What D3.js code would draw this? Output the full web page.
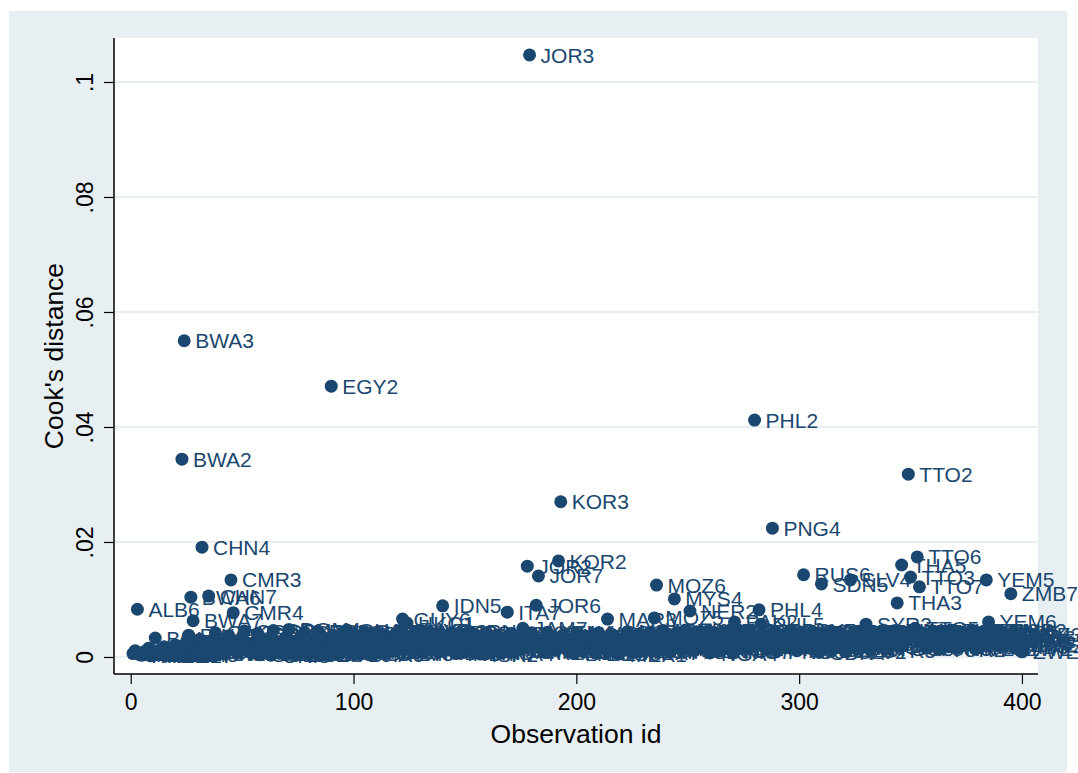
<!DOCTYPE html>
<html>
<head>
<meta charset="utf-8">
<script src="https://cdn.jsdelivr.net/npm/d3@7"></script>
<style>
  body { margin: 0; background: #fff; }
  text { font-family: "Liberation Sans", Arial, sans-serif; }
</style>
</head>
<body>
<div id="chart"></div>
<script>
// countries in the panel, with first and last period observed
const countryCodes = ["ALB","ARG","BOL","BRA","BWA","CHN","CIV","CMR","COG","COL","CRI","DOM","DZA","ECU","EGY",
  "GHA","GMB","GTM","GUY","HKG","HND","IDN","IND","IRN","ISR","ITA","JAM","JOR","KEN","KOR","LKA","LSO","MAR",
  "MEX","MLI","MOZ","MWI","MYS","NAM","NER","NGA","NIC","PAK","PER","PHL","PNG","PRY","RUS","RWA","SDN","SEN",
  "SLV","SWE","SYR","TGO","THA","TTO","TUN","TUR","URY","VEN","YEM","ZAF","ZMB","ZWE"];
const firstPeriod = [4,2,1,4,1,1,1,1,4,1,1,1,1,1,1, 1,1,1,1,1,3,1,1,1,2,1,1,1,1,1,1,1,1,
  1,3,1,5,1,6,1,1,1,2,6,1,1,3,1,6,1,1, 1,7,1,1,1,1,1,1,1,4,1,6,1,3];
const lastPeriod = [7,7,7,7,7,7,7,7,7,7,7,7,7,7,7, 7,7,7,7,7,7,7,7,7,7,7,7,7,7,7,7,7,7,
  7,7,7,7,7,7,7,7,7,7,7,6,7,7,7,7,7,7, 7,7,7,7,6,7,7,7,7,7,7,7,7,7];

// Cook's distance, one line per country (in observation order)
const cooksD = [
  .0006,.0011,.0083,.0004,
  .0003,.0009,.0005,.0015,.0002,.0007,
  .0033,.0006,.0012,.0004,.0018,.0008,.0003,
  .0010,.0005,.0021,.0009,
  .0014,.0344,.0550,.0026,.0038,.0104,.0063,
  .0019,.0007,.0031,.0191,.0024,.0013,.0106,
  .0010,.0028,.0042,.0017,.0006,.0023,.0012,
  .0016,.0037,.0134,.0077,.0021,.0008,.0027,
  .0033,.0045,.0018,.0010,
  .0007,.0013,.0025,.0041,.0004,.0010,.0017,
  .0029,.0011,.0003,.0046,.0019,.0008,.0014,
  .0022,.0006,.0036,.0048,.0010,.0027,.0004,
  .0015,.0024,.0009,.0043,.0020,.0006,.0031,
  .0012,.0026,.0045,.0009,.0035,.0005,.0018,
  .0023,.0471,.0038,.0015,.0030,.0008,.0042,
  .0017,.0047,.0011,.0028,.0040,.0005,.0021,
  .0034,.0009,.0044,.0016,.0026,.0041,.0007,
  .0013,.0032,.0019,.0039,.0006,.0024,.0010,
  .0027,.0015,.0041,.0022,.0046,.0066,.0031,
  .0059,.0018,.0037,.0011,.0030,.0045,.0023,
  .0008,.0036,.0020,.0043,.0014,
  .0025,.0033,.0009,.0040,.0089,.0017,.0028,
  .0012,.0042,.0023,.0006,.0035,.0019,.0010,
  .0031,.0016,.0044,.0024,.0008,.0038,.0021,
  .0005,.0027,.0014,.0041,.0018,.0033,
  .0011,.0022,.0036,.0007,.0029,.0015,.0078,
  .0020,.0039,.0009,.0032,.0025,.0013,.0050,
  .0034,.0158,.1047,.0042,.0023,.0090,.0141,
  .0016,.0030,.0008,.0043,.0021,.0035,.0012,
  .0026,.0167,.0270,.0038,.0018,.0031,.0009,
  .0023,.0006,.0041,.0015,.0028,.0011,.0034,
  .0019,.0036,.0013,.0024,.0007,.0042,.0017,
  .0030,.0014,.0066,.0022,.0039,.0010,.0027,
  .0005,.0021,.0033,.0012,.0044,.0018,.0008,
  .0031,.0016,.0040,.0024,.0011,
  .0035,.0019,.0043,.0027,.0068,.0125,.0038,
  .0013,.0046,.0023,
  .0032,.0009,.0026,.0101,.0017,.0041,.0014,
  .0028,.0047,
  .0020,.0080,.0034,.0011,.0044,.0024,.0037,
  .0016,.0030,.0045,.0007,.0025,.0040,.0021,
  .0033,.0012,.0042,.0019,.0028,.0046,.0009,
  .0061,.0024,.0036,.0015,.0031,.0043,
  .0018,.0045,
  .0026,.0412,.0033,.0082,.0057,.0021,
  .0037,.0014,.0028,.0224,.0043,.0010,.0035,
  .0023,.0039,.0016,.0031,.0046,
  .0019,.0034,.0011,.0041,.0027,.0143,.0022,
  .0036,.0015,
  .0044,.0025,.0032,.0008,.0127,.0039,.0020,
  .0029,.0045,.0013,.0035,.0022,.0042,.0017,
  .0032,.0009,.0037,.0134,.0024,.0044,.0016,
  .0028,
  .0041,.0021,.0057,.0033,.0012,.0039,.0025,
  .0036,.0018,.0045,.0030,.0014,.0043,.0023,
  .0034,.0046,.0094,.0020,.0160,.0038,
  .0031,.0318,.0139,.0044,.0050,.0174,.0122,
  .0026,.0041,.0015,.0035,.0022,.0045,.0029,
  .0037,.0013,.0043,.0024,.0033,.0018,.0047,
  .0030,.0040,.0016,.0044,.0025,.0035,.0021,
  .0042,.0028,.0046,.0014,
  .0033,.0022,.0040,.0045,.0134,.0061,.0036,
  .0026,.0043,
  .0030,.0046,.0018,.0037,.0023,.0034,.0110,
  .0039,.0015,.0028,.0022,.0009
];

const xTicks = [0, 100, 200, 300, 400];
const yTicks = [0, .02, .04, .06, .08, .1];
const yTickLabels = ["0", ".02", ".04", ".06", ".08", ".1"];
const xTitle = "Observation id";
const yTitle = "Cook's distance";

// build observations: id runs 1..n, label is country code + period
const obs = [];
countryCodes.forEach((c, i) => {
  for (let p = firstPeriod[i]; p <= lastPeriod[i]; p++) {
    obs.push({ id: obs.length + 1, label: c + p, d: cooksD[obs.length] });
  }
});

const W = 1078, H = 773;
const navy = "#1a476f";
const bgColor = "#e8eff2";
const plot = { left: 114, right: 1038, top: 38, bottom: 674 };

const svg = d3.select("#chart").append("svg")
  .attr("width", W).attr("height", H);

svg.append("rect").attr("width", W).attr("height", H).attr("fill", "#fff");
svg.append("rect")
  .attr("x", 9).attr("y", 11).attr("width", 1058).attr("height", 761)
  .attr("fill", bgColor);
svg.append("rect")
  .attr("x", plot.left).attr("y", plot.top)
  .attr("width", plot.right - plot.left).attr("height", plot.bottom - plot.top)
  .attr("fill", "#fff");

const x = d3.scaleLinear().domain([-7.5, 407.2]).range([plot.left, plot.right]);
const y = d3.scaleLinear().domain([-0.00296, 0.10765]).range([plot.bottom, plot.top]);

// gridlines
svg.append("g").selectAll("line")
  .data(yTicks).enter().append("line")
  .attr("x1", plot.left).attr("x2", plot.right)
  .attr("y1", d => y(d)).attr("y2", d => y(d))
  .attr("stroke", bgColor).attr("stroke-width", 2);

// axes
const yAxis = svg.append("g")
  .attr("transform", `translate(${plot.left},0)`)
  .call(d3.axisLeft(y).tickValues(yTicks).tickSize(10).tickFormat((d, i) => yTickLabels[i]));
yAxis.select(".domain").attr("d", `M0,${plot.top}V${plot.bottom}`).attr("stroke", "#000").attr("stroke-width", 1.5);
yAxis.selectAll(".tick line").attr("stroke", "#000").attr("stroke-width", 1.2);
yAxis.selectAll(".tick text")
  .attr("x", null).attr("dy", null)
  .attr("transform", "translate(-21,0) rotate(-90)")
  .attr("text-anchor", "middle")
  .attr("font-size", 23).attr("fill", "#000")
  .style("font-family", "'Liberation Sans', Arial, sans-serif");

const xAxis = svg.append("g")
  .attr("transform", `translate(0,${plot.bottom})`)
  .call(d3.axisBottom(x).tickValues(xTicks).tickSize(10).tickFormat(d3.format("d")));
xAxis.select(".domain").attr("d", `M${plot.left},0H${plot.right}`).attr("stroke", "#000").attr("stroke-width", 1.5);
xAxis.selectAll(".tick line").attr("stroke", "#000").attr("stroke-width", 1.2);
xAxis.selectAll(".tick text")
  .attr("y", 36).attr("dy", null)
  .attr("font-size", 23).attr("fill", "#000")
  .style("font-family", "'Liberation Sans', Arial, sans-serif");

svg.append("text")
  .attr("x", (plot.left + plot.right) / 2).attr("y", 743)
  .attr("text-anchor", "middle").attr("font-size", 26.5).attr("fill", "#000")
  .text(xTitle);

svg.append("text")
  .attr("transform", `translate(63,${(plot.top + plot.bottom) / 2}) rotate(-90)`)
  .attr("text-anchor", "middle").attr("font-size", 26.5).attr("fill", "#000")
  .text(yTitle);

// markers with labels, drawn in observation order
const pts = svg.append("g").selectAll("g")
  .data(obs).enter().append("g")
  .attr("transform", d => `translate(${x(d.id)},${y(d.d)})`);
pts.append("circle").attr("r", 6.5).attr("fill", navy);
pts.append("text")
  .attr("x", 11).attr("dy", "0.36em")
  .attr("font-size", 21).attr("fill", navy)
  .text(d => d.label);
</script>
</body>
</html>
